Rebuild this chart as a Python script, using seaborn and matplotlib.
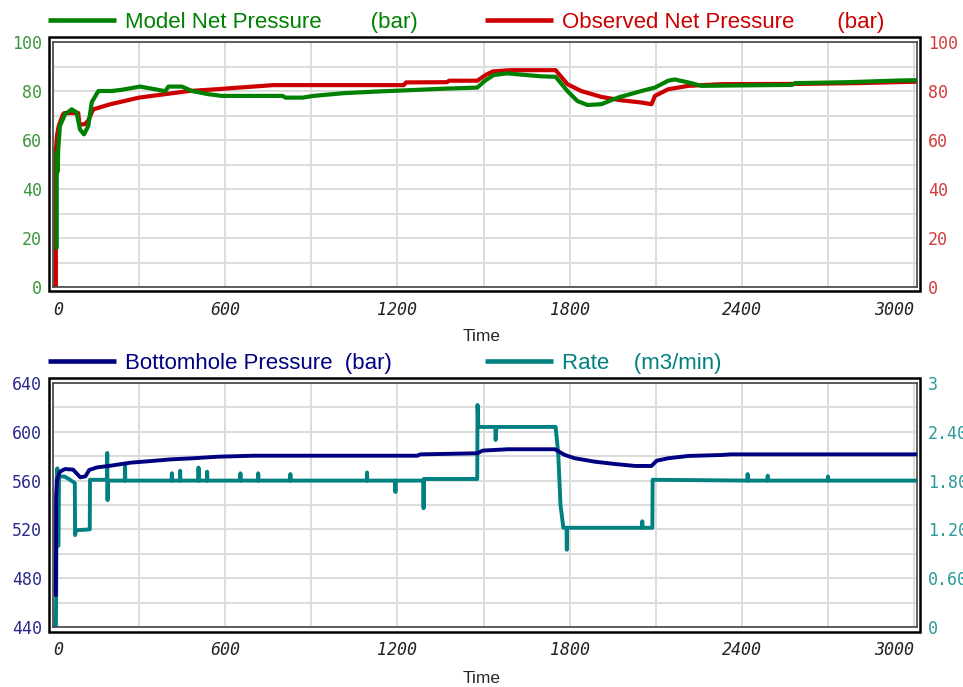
import matplotlib
matplotlib.use("Agg")
import matplotlib.pyplot as plt
import seaborn as sns
from matplotlib.lines import Line2D
from matplotlib.patches import Rectangle

# --- data ---
model_t = [13, 13, 16, 18, 24, 42, 65, 82, 94, 108, 123, 135, 158, 205, 240, 303, 356, 391, 402, 449,
           484, 541, 588, 646, 800, 810, 870, 907, 1012, 1130, 1235, 1373, 1478, 1505, 1535, 1582, 1640,
           1700, 1751, 1792, 1827, 1862, 1910, 1968, 2050, 2097, 2143, 2166, 2213, 2260, 2330, 2575, 2585,
           2770, 2950, 3010]
model_v = [16, 55, 47, 56, 65.7, 70.5, 72.5, 71.3, 64.3, 62.3, 65.7, 75.4, 80, 80, 80.5, 81.8, 80.7, 79.9, 81.8, 81.8,
           80, 78.7, 78, 78, 78, 77.3, 77.3, 78, 79.1, 79.8, 80.3, 81, 81.4, 84.2, 86.5, 87.2, 86.6,
           86.0, 85.8, 80, 75.9, 74.3, 74.6, 77.3, 80, 81.4, 84.2, 84.7, 83.5, 82.1, 82.2, 82.5, 83.2,
           83.6, 84.3, 84.4]

obs_t = [10, 10, 14, 20, 35, 40, 88, 92, 110, 122, 140, 200, 300, 390, 475, 580, 649, 768, 1222, 1230,
         1373, 1380, 1478, 1508, 1533, 1592, 1751, 1792, 1840, 1910, 1980, 2050, 2085, 2097, 2143, 2213,
         2330, 2600, 2800, 3010]
obs_v = [0, 55, 62, 65.7, 70.5, 71, 71, 66.4, 66.4, 67.8, 72.5, 74.6, 77.3, 78.7, 80, 80.8, 81.4, 82.4, 82.4, 83.5,
         83.6, 84.2, 84.2, 86.6, 88, 88.5, 88.5, 82.8, 80, 77.6, 76.2, 75.3, 74.6, 78, 80.7, 82.1,
         82.8, 82.9, 83.2, 83.8]

bhp_t = [10, 11, 14, 24, 42, 70, 95, 113, 126, 153, 200, 270, 340, 410, 480, 575, 700, 1269, 1280,
         1478, 1497, 1585, 1748, 1783, 1818, 1888, 1958, 2028, 2085, 2103, 2143, 2213, 2330, 2361, 3010]
bhp_v = [466, 547, 560.5, 567.3, 569.5, 569, 562.7, 563.5, 568.7, 570.8, 572.2, 574.7, 576, 577.4, 578.2, 579.6,
         580.4, 580.4, 581.5, 582.4, 584.6, 585.7, 585.7, 581, 578.3, 575.5, 573.6, 572, 572, 576.3, 578.3,
         580.2, 581, 581.5, 581.5]

rate_t = [10, 11, 13, 15, 17, 19, 21, 40, 55, 76, 77, 80, 128, 129, 188, 189, 190, 191,
          250, 251, 252, 413, 414, 415, 442, 443, 444, 506, 507, 508, 536, 537, 538, 652, 653, 654,
          714, 715, 716, 826, 827, 828, 1093, 1094, 1095, 1192, 1193, 1194, 1290, 1291, 1292,
          1478, 1479, 1482, 1541, 1542, 1545, 1751, 1760, 1768, 1778, 1789, 1790, 1791,
          2052, 2053, 2054, 2088, 2089, 2419, 2420, 2421, 2489, 2490, 2491, 2699, 2700, 2701, 3010]
rate_v = [0, 0.37, 1.85, 1.95, 1.0, 1.0, 1.85, 1.85, 1.82, 1.77, 1.13, 1.19, 1.20, 1.81, 1.81, 2.14, 1.56, 1.80,
          1.80, 1.99, 1.80, 1.80, 1.89, 1.80, 1.80, 1.92, 1.80, 1.80, 1.96, 1.80, 1.80, 1.91, 1.80, 1.80, 1.89, 1.80,
          1.80, 1.89, 1.80, 1.80, 1.88, 1.80, 1.80, 1.90, 1.80, 1.80, 1.66, 1.80, 1.80, 1.46, 1.82,
          1.82, 2.73, 2.46, 2.46, 2.30, 2.46, 2.46, 2.14, 1.50, 1.22, 1.22, 0.95, 1.22,
          1.22, 1.30, 1.22, 1.22, 1.81, 1.80, 1.88, 1.80, 1.80, 1.86, 1.80, 1.80, 1.85, 1.80, 1.80]

x_ticks = [0, 600, 1200, 1800, 2400, 3000]
x_labels = ["0", "600", "1200", "1800", "2400", "3000"]
net_ticks = [0, 20, 40, 60, 80, 100]
bhp_ticks = [440, 480, 520, 560, 600, 640]
rate_ticks = [0, 0.6, 1.2, 1.8, 2.4, 3.0]
rate_labels = ["0", "0.60", "1.20", "1.80", "2.40", "3"]

GREEN, RED, NAVY, TEAL = "#008000", "#cc0000", "#000080", "#008080"

sns.set_style("white")
plt.rcParams["font.family"] = ["Liberation Sans", "DejaVu Sans"]

W, H = 963, 687
fx = lambda px: px / W
fy = lambda py: 1 - py / H

fig = plt.figure(figsize=(W / 100, H / 100), dpi=100)
ax1 = fig.add_axes([fx(53), fy(287), fx(917) - fx(53), fy(42) - fy(287)])
ax3 = fig.add_axes([fx(53), fy(627), fx(917) - fx(53), fy(383) - fy(627)])

tickfont = dict(family="DejaVu Sans Mono", fontsize=12)


def style_axes(ax, ymin, ymax, yminor):
    ax.set_xlim(0, 3010)
    ax.set_ylim(ymin, ymax)
    ax.set_xticks(range(0, 3001, 300), minor=True)
    ax.set_yticks(yminor, minor=True)
    ax.grid(which="both", color="#dcdcdc", lw=1.4)
    ax.set_axisbelow(True)
    ax.set_xticks(x_ticks)
    labs = ax.set_xticklabels(x_labels, fontstyle="italic", color="#222222", **tickfont)
    labs[0].set_ha("left")
    labs[-1].set_ha("right")
    ax.tick_params(which="both", length=0)
    ax.tick_params(axis="x", pad=10)
    ax.tick_params(axis="y", pad=8)
    for s in ax.spines.values():
        s.set_color("#444444")
        s.set_linewidth(1.2)
    ax.set_xlabel("")
    ax.set_ylabel("")


# --- top panel: net pressure ---
sns.lineplot(x=obs_t, y=obs_v, ax=ax1, color=RED, linewidth=3.0, estimator=None, sort=False, legend=False)
sns.lineplot(x=model_t, y=model_v, ax=ax1, color=GREEN, linewidth=3.0, estimator=None, sort=False, legend=False)
style_axes(ax1, 0, 100, list(range(0, 101, 10)))
ax1.set_yticks(net_ticks)
ax1.set_yticklabels([str(v) for v in net_ticks], color="#3c963c", **tickfont)

ax2 = ax1.twinx()
ax2.set_ylim(0, 100)
ax2.set_yticks(net_ticks)
ax2.set_yticklabels([str(v) for v in net_ticks], color="#d23c3c", **tickfont)
ax2.tick_params(length=0, pad=8)
for s in ax2.spines.values():
    s.set_visible(False)

# --- bottom panel: rate on base axes (right ticks), BHP on twin (left ticks, drawn on top) ---
sns.lineplot(x=rate_t, y=rate_v, ax=ax3, color=TEAL, linewidth=2.8, estimator=None, sort=False, legend=False)
style_axes(ax3, 0, 3, [i * 0.3 for i in range(11)])
ax3.set_yticks(rate_ticks)
ax3.set_yticklabels(rate_labels, color="#2a9a9a", **tickfont)

ax4 = ax3.twinx()
sns.lineplot(x=bhp_t, y=bhp_v, ax=ax4, color=NAVY, linewidth=2.8, estimator=None, sort=False, legend=False)
ax4.set_ylim(440, 640)
ax4.set_yticks(bhp_ticks)
ax4.set_yticklabels([str(v) for v in bhp_ticks], color="#2b2b8f", **tickfont)
ax4.set_ylabel("")
for s in ax4.spines.values():
    s.set_visible(False)
# swap sides after twinx (which resets the base axes ticks to the left)
ax3.yaxis.tick_right()
ax4.yaxis.tick_left()
ax3.tick_params(axis="y", which="both", length=0, pad=8)
ax4.tick_params(axis="y", which="both", length=0, pad=8)

# outer frames
for top, bot in [(37, 291), (378, 632)]:
    fig.add_artist(Rectangle((fx(49), fy(bot)), fx(920) - fx(49), fy(top) - fy(bot),
                             fill=False, lw=1.8, ec="black", transform=fig.transFigure))

# legend-like headers
headers = [
    (48, 125, 20, 28, GREEN, "Model Net Pressure        (bar)"),
    (485, 562, 20, 28, RED, "Observed Net Pressure       (bar)"),
    (48, 125, 361, 369, NAVY, "Bottomhole Pressure  (bar)"),
    (485, 562, 361, 369, TEAL, "Rate    (m3/min)"),
]
for lx, tx, ly, by, c, txt in headers:
    fig.add_artist(Line2D([fx(lx), fx(lx + 68)], [fy(ly), fy(ly)], color=c, lw=3.3,
                          solid_capstyle="butt", transform=fig.transFigure))
    fig.text(fx(tx), fy(by), txt, color=c, fontsize=16, va="baseline", ha="left")

fig.text(fx(482), fy(341), "Time", fontsize=12.5, ha="center", va="baseline")
fig.text(fx(482), fy(683), "Time", fontsize=12.5, ha="center", va="baseline")

fig.savefig("out.png", dpi=100, facecolor="white")
